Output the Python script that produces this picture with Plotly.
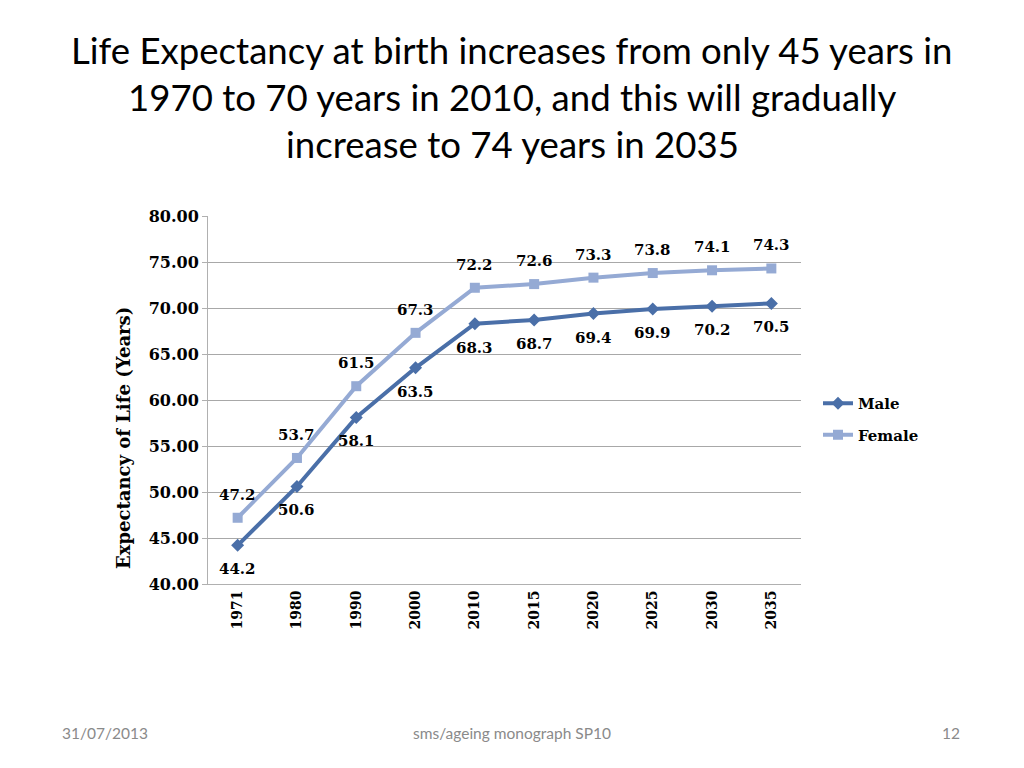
import plotly.graph_objects as go

years = ["1971", "1980", "1990", "2000", "2010", "2015", "2020", "2025", "2030", "2035"]
male = [44.2, 50.6, 58.1, 63.5, 68.3, 68.7, 69.4, 69.9, 70.2, 70.5]
female = [47.2, 53.7, 61.5, 67.3, 72.2, 72.6, 73.3, 73.8, 74.1, 74.3]
title_lines = [
    "Life Expectancy at birth increases from only 45 years in",
    "1970 to 70 years in 2010, and this will gradually",
    "increase to 74 years in 2035",
]
y_title = "Expectancy of Life (Years)"

MALE_C = "#4A6FA8"
FEMALE_C = "#95AAD4"
SERIF = "DejaVu Serif"

fig = go.Figure()
fig.add_trace(go.Scatter(
    x=years, y=male, name="Male", mode="lines+markers", legendgroup="m",
    line=dict(color=MALE_C, width=4),
    marker=dict(symbol="diamond", size=10, color=MALE_C),
))
fig.add_trace(go.Scatter(
    x=years, y=female, name="Female", mode="lines+markers", legendgroup="f",
    line=dict(color=FEMALE_C, width=4),
    marker=dict(symbol="square", size=10, color=FEMALE_C),
))

label_font = dict(family=SERIF, size=15, color="black", weight="bold")
annotations = []
for i, v in enumerate(male):
    annotations.append(dict(x=i, y=v, xref="x", yref="y", text=f"{v:.1f}",
                            showarrow=False, yshift=-24, font=label_font))
for i, v in enumerate(female):
    annotations.append(dict(x=i, y=v, xref="x", yref="y", text=f"{v:.1f}",
                            showarrow=False, yshift=23, font=label_font))

# pixel -> paper conversions
plot_top, plot_bottom = 216, 584
plot_left, plot_right = 208, 801
def py(p):
    return (plot_bottom - p) / (plot_bottom - plot_top)
def px(p):
    return (p - plot_left) / (plot_right - plot_left)

for i, line in enumerate(title_lines):
    annotations.append(dict(x=px(512), y=py(50 + 47 * i), xref="paper", yref="paper",
                            xanchor="center", yanchor="middle", showarrow=False,
                            text=line, font=dict(family="Lato", size=36.6, color="black")))

# y-axis title
annotations.append(dict(x=px(123), y=py(438), xref="paper", yref="paper",
                        xanchor="center", yanchor="middle", showarrow=False, textangle=-90,
                        text=y_title,
                        font=dict(family=SERIF, size=18, color="black", weight="bold")))

# footer
footer_font = dict(family="Lato", size=15.5, color="#8a8a8a")
annotations.append(dict(x=px(60), y=py(733), xref="paper", yref="paper", xanchor="left",
                        yanchor="middle", showarrow=False, text="31/07/2013", font=footer_font))
annotations.append(dict(x=px(512), y=py(733), xref="paper", yref="paper", xanchor="center",
                        yanchor="middle", showarrow=False, text="sms/ageing monograph SP10", font=footer_font))
annotations.append(dict(x=px(962), y=py(733), xref="paper", yref="paper", xanchor="right",
                        yanchor="middle", showarrow=False, text="12", font=footer_font))

fig.update_layout(
    width=1024, height=768,
    margin=dict(l=208, r=223, t=216, b=184),
    paper_bgcolor="white", plot_bgcolor="white",
    showlegend=True,
    legend=dict(x=px(818), y=py(419), xanchor="left", yanchor="middle",
                font=dict(family=SERIF, size=15, color="black", weight="bold"),
                itemwidth=30, tracegroupgap=9, bgcolor="rgba(0,0,0,0)"),
    annotations=annotations,
    xaxis=dict(type="category", tickangle=-90, showgrid=False,
               showline=True, linecolor="#b0b0b0", linewidth=1,
               ticks="", tickfont=dict(family=SERIF, size=14, color="black", weight="bold"),
               range=[-0.5, 9.5], automargin=False),
    yaxis=dict(range=[40, 80], dtick=5, tickformat=".2f",
               showgrid=True, gridcolor="#a8a8a8", gridwidth=1,
               showline=True, linecolor="#b0b0b0", linewidth=1,
               ticks="outside", ticklen=5, tickcolor="#b0b0b0",
               tickfont=dict(family=SERIF, size=16, color="black", weight="bold"),
               zeroline=False, automargin=False),
)

fig.write_html("out.html", config={"displayModeBar": False},
               post_script="document.body.style.margin='0';")
